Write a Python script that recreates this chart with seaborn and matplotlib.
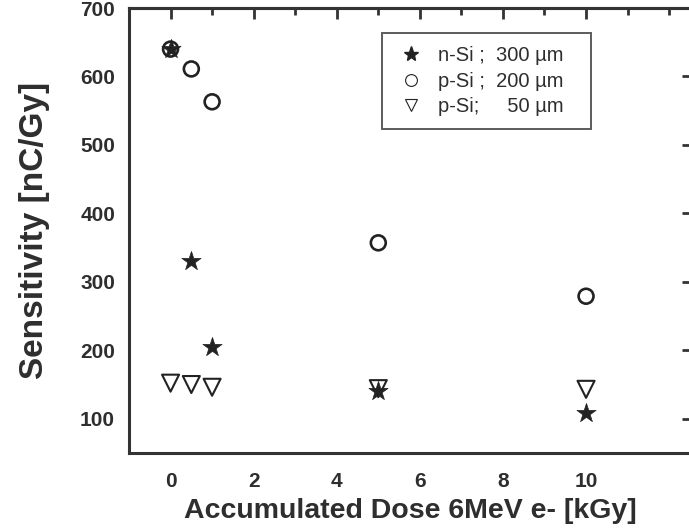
import matplotlib
matplotlib.use("Agg")
import matplotlib.pyplot as plt
import seaborn as sns
import pandas as pd
from matplotlib.ticker import MultipleLocator, NullFormatter
from matplotlib.lines import Line2D

dose = [0, 0.5, 1, 5, 10]
n_si_300 = [640, 330, 205, 140, 108]
p_si_200 = [640, 611, 563, 357, 279]
p_si_50 = [152, 150, 146, 144, 143]
labels = ["n-Si ;  300 \u00b5m", "p-Si ;  200 \u00b5m", "p-Si;     50 \u00b5m"]

sns.set_theme(style="white")
plt.rcParams['font.family'] = ['Liberation Sans', 'DejaVu Sans']

W, H = 689, 531
fig = plt.figure(figsize=(W / 100, H / 100), dpi=100)
ax = fig.add_axes([129 / W, (H - 453) / H, (692 - 129) / W, (453 - 8) / H])

c = "#222222"
tc = "#2e2e2e"
df1 = pd.DataFrame({"x": dose, "y": n_si_300})
df2 = pd.DataFrame({"x": dose, "y": p_si_200})
df3 = pd.DataFrame({"x": dose, "y": p_si_50})
sns.scatterplot(data=df2, x="x", y="y", ax=ax, marker="o", s=115,
                facecolor="none", edgecolor=c, linewidth=1.9, zorder=3)
sns.scatterplot(data=df3, x="x", y="y", ax=ax, marker="v", s=150,
                facecolor="none", edgecolor=c, linewidth=1.5, zorder=3)
sns.scatterplot(data=df1, x="x", y="y", ax=ax, marker="*", s=210,
                color=c, edgecolor=c, linewidth=0.5, zorder=4)

ax.set_xlim(-1, 12.55)
ax.set_ylim(50, 700)
ax.set_xticks([0, 2, 4, 6, 8, 10])
ax.xaxis.set_minor_locator(MultipleLocator(1))
ax.yaxis.set_major_locator(MultipleLocator(100))
ax.yaxis.set_minor_locator(MultipleLocator(50))

for s in ax.spines.values():
    s.set_color("#333333")
    s.set_linewidth(2.2)

ax.tick_params(axis="both", which="major", direction="out", length=7, width=2,
               color="#333333", labelsize=15, labelcolor=tc)
ax.tick_params(axis="both", which="minor", direction="out", length=4.5, width=2,
               color="#333333")
ax.tick_params(axis="x", which="major", pad=7)
ax.tick_params(axis="y", which="major", pad=3)
ax.tick_params(which="both", top=False, right=False)
for t in ax.get_xticklabels() + ax.get_yticklabels():
    t.set_fontweight("bold")

# inward ticks on top and right
axt = ax.secondary_xaxis("top")
axt.set_xticks([0, 2, 4, 6, 8, 10])
axt.xaxis.set_minor_locator(MultipleLocator(1))
axt.xaxis.set_major_formatter(NullFormatter())
axt.tick_params(which="major", direction="in", length=8, width=2, color="#333333")
axt.tick_params(which="minor", direction="in", length=5, width=2, color="#333333")
axt.spines["top"].set_linewidth(2.2)
axt.spines["top"].set_color("#333333")

axr = ax.secondary_yaxis("right")
axr.yaxis.set_major_locator(MultipleLocator(100))
axr.yaxis.set_major_formatter(NullFormatter())
axr.tick_params(which="major", direction="in", length=7, width=2, color="#333333")
axr.tick_params(which="minor", length=0)

ax.set_xlabel("Accumulated Dose 6MeV e- [kGy]", fontsize=20.5, fontweight="bold",
              color=tc, labelpad=5)
ax.set_ylabel("Sensitivity [nC/Gy]", fontsize=24, fontweight="bold",
              color=tc, labelpad=22)

handles = [
    Line2D([], [], linestyle="none", marker="*", markersize=11, color=c),
    Line2D([], [], linestyle="none", marker="o", markersize=8.5, markerfacecolor="none",
           markeredgecolor=c, markeredgewidth=0.8),
    Line2D([], [], linestyle="none", marker="v", markersize=9, markerfacecolor="none",
           markeredgecolor=c, markeredgewidth=0.8),
]
leg = ax.legend(handles, labels, loc="upper left",
                bbox_to_anchor=(0.449, 0.5, 0.371, 0.444), mode="expand",
                borderaxespad=0, frameon=True, fancybox=False, fontsize=14.5,
                handletextpad=0.55, handlelength=1.6, borderpad=0.65,
                labelspacing=0.33, edgecolor="#333333")
leg.get_frame().set_linewidth(1.4)
for t in leg.get_texts():
    t.set_color(tc)

fig.savefig("out.png", dpi=100)
